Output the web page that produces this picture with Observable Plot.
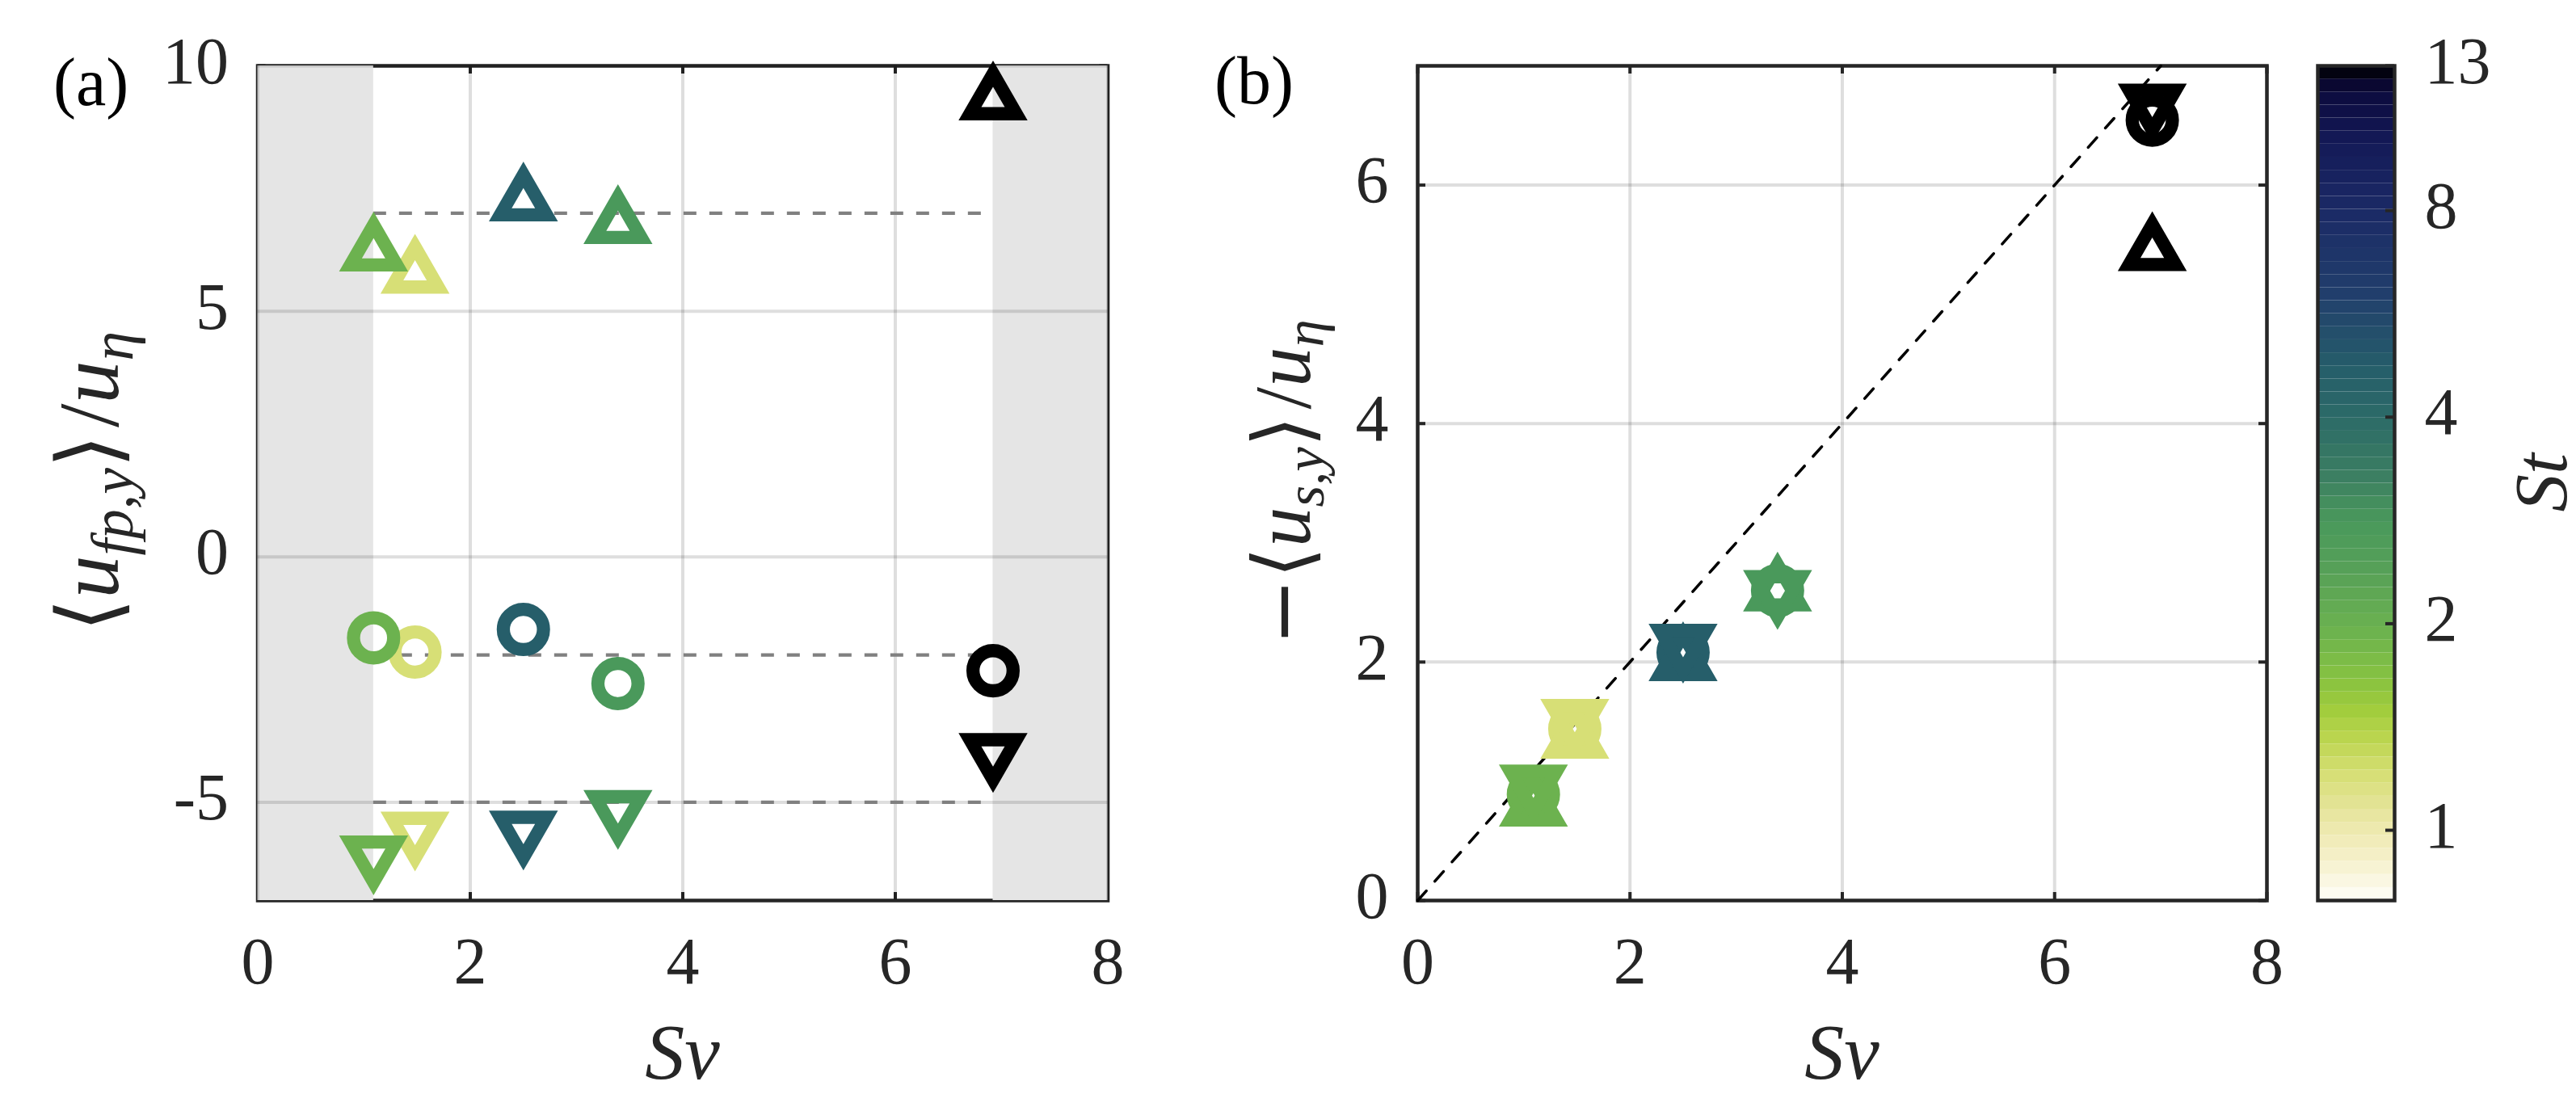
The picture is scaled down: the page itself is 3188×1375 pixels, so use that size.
<!DOCTYPE html>
<html><head><meta charset="utf-8">
<script src="https://cdn.jsdelivr.net/npm/d3@7"></script>
<script src="https://cdn.jsdelivr.net/npm/@observablehq/plot@0.6"></script>
<style>
html,body{margin:0;padding:0;background:#fff;overflow:hidden;}
#fig{position:relative;width:3188px;height:1375px;overflow:hidden;background:#fff;}
.panel{position:absolute;top:0;}
.panel svg{max-width:none !important;}
.panel svg text{font-family:"Liberation Serif", serif;}
</style></head><body><div id="fig"></div>
<script>
// ---------------- data ----------------
const St        = [1.2, 1.95, 4.7, 2.8, 13];          // colour (Stokes number) per case
const Sv        = [1.48, 1.09, 2.50, 3.39, 6.92];     // settling parameter
const fluidUp   = [5.97, 6.42, 7.44, 6.98, 9.50];     // panel (a) triangles up
const fluidAll  = [-1.94, -1.65, -1.48, -2.58, -2.32];// panel (a) circles
const fluidDown = [-5.80, -6.285, -5.78, -5.36, -4.20];// panel (a) triangles down
const settleAll  = [1.44, 0.89, 2.08, 2.60, 6.545];   // panel (b) circles
const settleUp   = [1.44, 0.87, 2.09, 2.675, 5.53];   // panel (b) triangles up
const settleDown = [1.44, 0.89, 2.07, 2.52, 6.60];    // panel (b) triangles down
const refLevels = [7, -2, -5];
const refSpan = [1.09, 6.92];
const shadeFrom = [0, 6.92];
const shadeTo = [1.09, 8];
const identity = [0, 7];
const xTicks = [0, 2, 4, 6, 8];
const yTicksA = [-5, 0, 5, 10];
const yTicksB = [0, 2, 4, 6];
const stTicks = [1, 2, 4, 8, 13];
const stDomain = [0.79, 13];
const cmapSt = [0.79, 0.9, 1.0, 1.1, 1.2, 1.35, 1.5, 1.65, 1.95, 2.4, 2.8, 3.3, 4.0, 4.7, 6.0, 8.0, 10, 12, 13];
const cmapColors = ["#fffef8","#f6f1cc","#eee9b0","#e2e392","#d7df76","#bdd650","#a0cc3c","#88c340","#6cb24f","#56a058","#4a995b","#3b7e62","#2c6a68","#265e6a","#213f6c","#1b2a66","#141a58","#0c0a3c","#000000"];

// ---------------- helpers ----------------
const L = Math.log(stDomain[1] / stDomain[0]);
const tStops = cmapSt.map(s => Math.log(s / stDomain[0]) / L);
const cmap = d3.scaleLinear().domain(tStops).range(cmapColors).interpolate(d3.interpolateRgb).clamp(true);
const colorScale = {type: "log", domain: stDomain, interpolate: t => cmap(t)};

const R = 24.85;
const circleSym = {draw(ctx) { ctx.moveTo(R, 0); ctx.arc(0, 0, R, 0, 2 * Math.PI); ctx.closePath(); }};
const triUpSym = {draw(ctx) { ctx.moveTo(0, -20.7); ctx.lineTo(28.6, 28.85); ctx.lineTo(-28.6, 28.85); ctx.closePath(); }};
const triDownSym = {draw(ctx) { ctx.moveTo(0, 20.7); ctx.lineTo(28.6, -28.85); ctx.lineTo(-28.6, -28.85); ctx.closePath(); }};

const rows = St.map((s, i) => ({St: s, Sv: Sv[i], up: fluidUp[i], all: fluidAll[i], down: fluidDown[i],
  sAll: settleAll[i], sUp: settleUp[i], sDown: settleDown[i]}));

const H = 1375, TOP = 81, BOTTOM = 261, INNER_H = H - TOP - BOTTOM;
const AX = "#262626";
const FONT = "Liberation Serif";
const TICKFS = 82, LABFS = 98, SUBFS = 68, SUBDY = 17;
const fmt = d => (d < 0 ? "-" + Math.abs(d) : String(d));
const dotStyle = {fill: "none", strokeWidth: 16.3, strokeLinejoin: "miter", r: 10};
const tickText = {tickSize: 0, label: null, fontSize: TICKFS, fontFamily: FONT, fill: AX, tickFormat: fmt};

function addText(svg, {x, y, rotate = 0, size, anchor = "middle", parts, fill = AX}) {
  const t = d3.select(svg).append("text")
    .attr("transform", `translate(${x},${y})` + (rotate ? ` rotate(${rotate})` : ""))
    .attr("text-anchor", anchor).attr("font-size", size).attr("fill", fill)
    .style("font-family", FONT);
  for (const p of parts) {
    const s = t.append("tspan").text(p.t);
    if (p.i) s.attr("font-style", "italic");
    if (p.s) s.attr("font-size", p.s);
    if (p.dy) s.attr("dy", p.dy);
    if (p.f) s.style("font-family", p.f);
    if (p.dx) s.attr("dx", p.dx);
  }
  return t;
}
function fitVertical(t, {x, cy, len}) {
  const b = t.node().getBBox();
  if (!b.width) return;
  const k = len / b.width;
  const lc = b.x + b.width / 2;
  t.attr("transform", `translate(${x},${cy + k * lc}) rotate(-90) scale(${k})`);
}
function place(svg, left, width) {
  const d = document.createElement("div");
  d.className = "panel"; d.style.left = left + "px"; d.style.width = width + "px";
  d.appendChild(svg); document.getElementById("fig").appendChild(d);
}
const commonStyle = {fontFamily: FONT, fontSize: TICKFS + "px", color: AX, background: "transparent", overflow: "visible"};
const bracket = "DejaVu Sans";

// ---------------- panel (a) ----------------
const WA = 1420, mLA = 318.5, mRA = 49.5, INNER_WA = WA - mLA - mRA;
const plotA = Plot.plot({
  width: WA, height: H, marginLeft: mLA, marginRight: mRA, marginTop: TOP, marginBottom: BOTTOM,
  style: commonStyle,
  x: {domain: [0, 8]}, y: {domain: [-7, 10]}, color: colorScale,
  marks: [
    Plot.frame({stroke: AX, strokeWidth: 4.5}),
    Plot.tickX(xTicks, {x: d => d, insetTop: INNER_H - 10, stroke: AX, strokeWidth: 4}),
    Plot.tickX(xTicks, {x: d => d, insetBottom: INNER_H - 10, stroke: AX, strokeWidth: 4}),
    Plot.tickY(yTicksA, {y: d => d, insetRight: INNER_WA - 10, stroke: AX, strokeWidth: 4}),
    Plot.tickY(yTicksA, {y: d => d, insetLeft: INNER_WA - 10, stroke: AX, strokeWidth: 4}),
    Plot.rect(shadeFrom, {x1: d => d, x2: (d, i) => shadeTo[i], fill: "#e5e5e5"}),
    Plot.gridX(xTicks, {stroke: "black", strokeOpacity: 0.13, strokeWidth: 4}),
    Plot.gridY(yTicksA, {stroke: "black", strokeOpacity: 0.13, strokeWidth: 4}),
    Plot.ruleY(refLevels, {y: d => d, x1: refSpan[0], x2: refSpan[1], stroke: "#808080", strokeWidth: 4.3, strokeDasharray: "16,16"}),
    Plot.dot(rows, {x: "Sv", y: "up", stroke: "St", symbol: triUpSym, ...dotStyle}),
    Plot.dot(rows, {x: "Sv", y: "all", stroke: "St", symbol: circleSym, ...dotStyle}),
    Plot.dot(rows, {x: "Sv", y: "down", stroke: "St", symbol: triDownSym, ...dotStyle}),
    Plot.axisX({ticks: xTicks, tickPadding: 44, ...tickText}),
    Plot.axisY({ticks: yTicksA, tickPadding: 36, dy: -5, ...tickText})
  ]
});
addText(plotA, {x: 66, y: 130, size: 84, anchor: "start", fill: "#000", parts: [{t: "(a)"}]});
addText(plotA, {x: (mLA + WA - mRA) / 2, y: 1335, size: LABFS, parts: [{t: "Sv", i: 1}]});
const labA = addText(plotA, {x: 146, y: 596, rotate: -90, size: LABFS, parts: [
  {t: "⟨", f: bracket}, {t: "u", i: 1}, {t: "fp", i: 1, s: SUBFS, dy: SUBDY}, {t: ",", s: SUBFS}, {t: "y", i: 1, s: SUBFS},
  {t: "⟩", f: bracket, dy: -SUBDY}, {t: "/", dx: 8}, {t: "u", i: 1}, {t: "η", i: 1, s: SUBFS, dy: SUBDY}]});
place(plotA, 0, WA);
fitVertical(labA, {x: 146, cy: 596, len: 372});

// ---------------- panel (b) ----------------
const WB = 1420, mLB = 334, mRB = 35, INNER_WB = WB - mLB - mRB;
const plotB = Plot.plot({
  width: WB, height: H, marginLeft: mLB, marginRight: mRB, marginTop: TOP, marginBottom: BOTTOM,
  style: commonStyle,
  x: {domain: [0, 8]}, y: {domain: [0, 7]}, color: colorScale,
  marks: [
    Plot.gridX(xTicks, {stroke: "black", strokeOpacity: 0.13, strokeWidth: 4}),
    Plot.gridY(yTicksB, {stroke: "black", strokeOpacity: 0.13, strokeWidth: 4}),
    Plot.frame({stroke: AX, strokeWidth: 4.5}),
    Plot.tickX(xTicks, {x: d => d, insetTop: INNER_H - 10, stroke: AX, strokeWidth: 4}),
    Plot.tickX(xTicks, {x: d => d, insetBottom: INNER_H - 10, stroke: AX, strokeWidth: 4}),
    Plot.tickY(yTicksB, {y: d => d, insetRight: INNER_WB - 10, stroke: AX, strokeWidth: 4}),
    Plot.tickY(yTicksB, {y: d => d, insetLeft: INNER_WB - 10, stroke: AX, strokeWidth: 4}),
    Plot.line(identity, {x: d => d, y: d => d, stroke: "black", strokeWidth: 3.5, strokeDasharray: "16,16"}),
    Plot.dot(rows, {x: "Sv", y: "sAll", stroke: "St", symbol: circleSym, ...dotStyle}),
    Plot.dot(rows, {x: "Sv", y: "sUp", stroke: "St", symbol: triUpSym, ...dotStyle}),
    Plot.dot(rows, {x: "Sv", y: "sDown", stroke: "St", symbol: triDownSym, ...dotStyle}),
    Plot.axisX({ticks: xTicks, tickPadding: 44, ...tickText}),
    Plot.axisY({ticks: yTicksB, tickPadding: 36, dy: -5, ...tickText})
  ]
});
addText(plotB, {x: 83, y: 128, size: 84, anchor: "start", fill: "#000", parts: [{t: "(b)"}]});
addText(plotB, {x: (mLB + WB - mRB) / 2, y: 1335, size: LABFS, parts: [{t: "Sv", i: 1}]});
const labB = addText(plotB, {x: 201, y: 597, rotate: -90, size: LABFS, parts: [
  {t: "−", f: bracket}, {t: "⟨", f: bracket}, {t: "u", i: 1}, {t: "s", i: 1, s: SUBFS, dy: SUBDY}, {t: ",", s: SUBFS}, {t: "y", i: 1, s: SUBFS},
  {t: "⟩", f: bracket, dy: -SUBDY}, {t: "/", dx: 8}, {t: "u", i: 1}, {t: "η", i: 1, s: SUBFS, dy: SUBDY}]});
place(plotB, 1420, WB);
fitVertical(labB, {x: 201, cy: 597, len: 403});

// ---------------- colour bar ----------------
const WC = 348, mLC = 28, mRC = 225, INNER_WC = WC - mLC - mRC;
const nBands = 64;
const bands = d3.range(nBands).map(i => ({
  lo: stDomain[0] * Math.pow(stDomain[1] / stDomain[0], i / nBands),
  hi: stDomain[0] * Math.pow(stDomain[1] / stDomain[0], (i + 1) / nBands),
  mid: stDomain[0] * Math.pow(stDomain[1] / stDomain[0], (i + 0.5) / nBands)
}));
const plotC = Plot.plot({
  width: WC, height: H, marginLeft: mLC, marginRight: mRC, marginTop: TOP, marginBottom: BOTTOM,
  style: commonStyle,
  x: {domain: [0, 1], axis: null},
  y: {type: "log", domain: stDomain, axis: null},
  color: colorScale,
  marks: [
    Plot.rect(bands, {y1: "lo", y2: "hi", fill: "mid", inset: 0}),
    Plot.frame({stroke: AX, strokeWidth: 4.5}),
    Plot.tickY(stTicks, {y: d => d, insetLeft: INNER_WC - 11, stroke: AX, strokeWidth: 4}),
    Plot.axisY({anchor: "right", ticks: stTicks, tickPadding: 37, dy: -5, ...tickText})
  ]
});
const labC = addText(plotC, {x: 336, y: 596, rotate: -90, size: 92, parts: [{t: "St", i: 1}]});
place(plotC, 2840, WC);
fitVertical(labC, {x: 336, cy: 596, len: 75});
</script>
</body></html>
